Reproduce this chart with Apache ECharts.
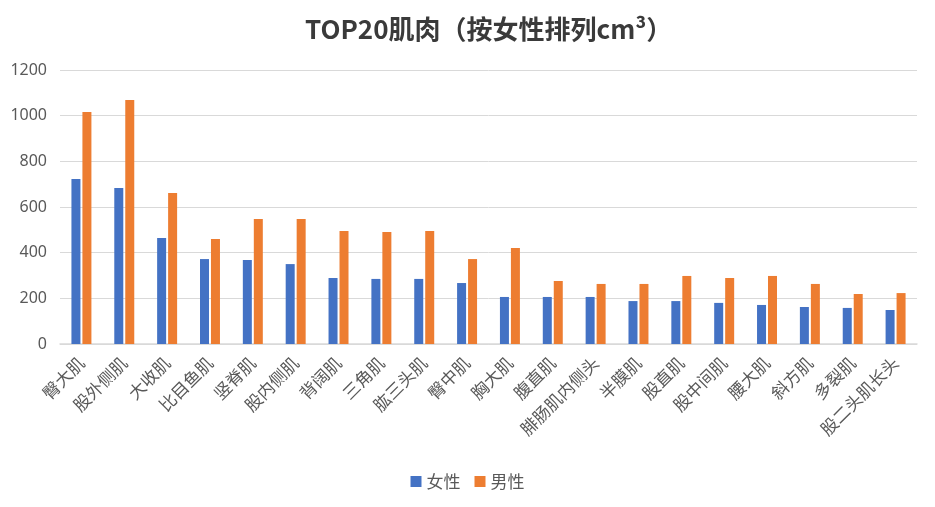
<!DOCTYPE html>
<html>
<head>
<meta charset="utf-8">
<script src="https://cdn.jsdelivr.net/npm/echarts@6/dist/echarts.min.js"></script>
<style>html,body{margin:0;padding:0;background:#fff}#c{width:935px;height:507px}</style>
</head>
<body>
<div id="c"></div>
<script>
const categories = ['臀大肌','股外侧肌','大收肌','比目鱼肌','竖脊肌','股内侧肌','背阔肌','三角肌','肱三头肌','臀中肌','胸大肌','腹直肌','腓肠肌内侧头','半膜肌','股直肌','股中间肌','腰大肌','斜方肌','多裂肌','股二头肌长头'];
const female = [723,683,464,372,368,350,289,285,285,267,206,206,206,188,188,180,171,162,158,149];
const male = [1016,1069,661,460,547,547,495,491,495,372,420,276,263,263,298,289,298,263,219,223];
const yTicks = {min:0, max:1200, interval:200};

const chart = echarts.init(document.getElementById('c'));
chart.setOption({
  animation:false,
  title:{text:'TOP20肌肉（按女性排列cm³）', left:300, top:11,
    textStyle:{fontFamily:'Noto Sans CJK SC', fontWeight:'bold', fontSize:26, color:'#3a3a3a'}},
  legend:{bottom:12, left:'center', itemWidth:11, itemHeight:11, itemGap:14, icon:'rect',
    textStyle:{fontFamily:'Noto Sans CJK SC', fontSize:17, color:'#595959'}},
  grid:{left:60, right:18, top:70, bottom:163},
  xAxis:{type:'category', data:categories,
    axisLine:{lineStyle:{color:'#d9d9d9', width:1.5}},
    axisTick:{show:false},
    axisLabel:{rotate:45, interval:0, fontFamily:'Noto Sans CJK SC', fontSize:17, color:'#595959', margin:16, padding:[14,0,0,0]}},
  yAxis:{type:'value', min:yTicks.min, max:yTicks.max, interval:yTicks.interval,
    axisLine:{show:false}, axisTick:{show:false},
    splitLine:{lineStyle:{color:'#d9d9d9', width:1}},
    axisLabel:{fontFamily:'Noto Sans', fontSize:16, color:'#595959', margin:13, formatter:v=>String(v)}},
  series:[
    {name:'女性', type:'bar', data:female, barWidth:9, barGap:'22%', itemStyle:{color:'#4472c4'}},
    {name:'男性', type:'bar', data:male, barWidth:9, itemStyle:{color:'#ed7d31'}}
  ]
});
</script>
</body>
</html>
